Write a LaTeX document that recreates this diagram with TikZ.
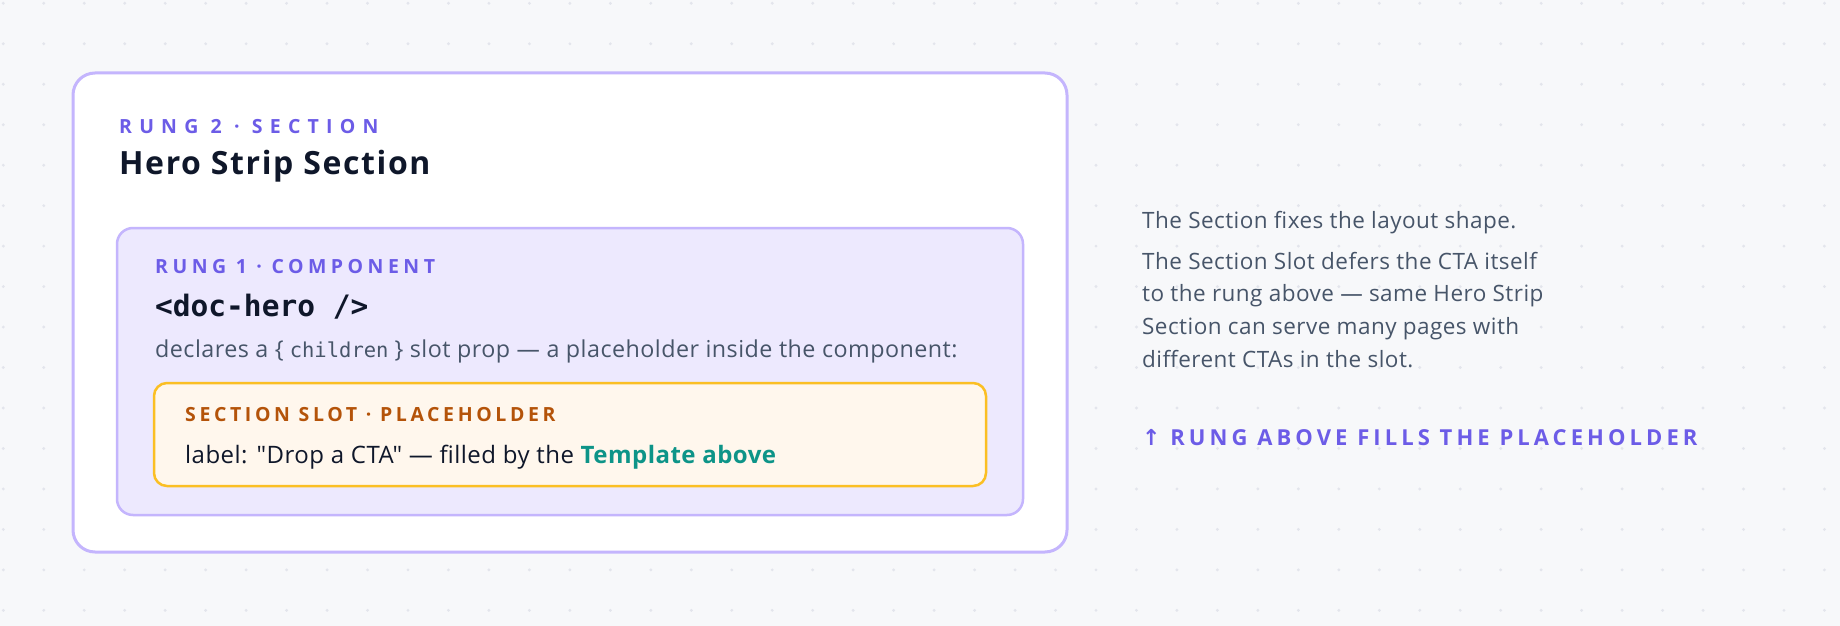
\documentclass[tikz,border=0pt]{standalone}
\usepackage{fontspec}
\setmainfont{Open Sans}
\newfontfamily\uifont[LetterSpace=2]{Open Sans}
\newfontfamily\titlefont[LetterSpace=5]{Open Sans}
\newfontfamily\sectionfont[LetterSpace=37]{Open Sans}
\newfontfamily\rungfont[LetterSpace=23]{Open Sans}
\newfontfamily\slotfont[LetterSpace=18.5]{Open Sans}
\newfontfamily\hintfont[LetterSpace=18.5]{Open Sans}
\newfontfamily\codefont{DejaVu Sans Mono}
\newfontfamily\arrowfont{DejaVu Sans}
\definecolor{pagebg}{HTML}{F7F8FA}
\definecolor{dotgrey}{HTML}{E3E5EC}
\definecolor{violetline}{HTML}{C4B5FD}
\definecolor{violetfill}{HTML}{EDE9FE}
\definecolor{rungviolet}{HTML}{6C5CE7}
\definecolor{inkdark}{HTML}{0F172A}
\definecolor{inkslate}{HTML}{475569}
\definecolor{slotline}{HTML}{FBBF24}
\definecolor{slotfill}{HTML}{FFF7ED}
\definecolor{slotbrown}{HTML}{B45309}
\definecolor{tealtxt}{HTML}{0D9488}
\begin{document}
\begin{tikzpicture}[x=1pt, y=-1pt,
    framebox/.style={draw=violetline, rounded corners=#1, inner sep=0pt, outer sep=0pt, anchor=north west},
    eyebrowtxt/.style={anchor=base west, inner sep=0pt, font=\rungfont\bfseries\fontsize{19.5}{20}\selectfont},
    plaintxt/.style={anchor=base west, inner sep=0pt}]
    % canvas and dot grid
    \useasboundingbox[fill=pagebg] (0,0) rectangle (1840,626);
    \foreach \i in {0,...,45}{
      \foreach \j in {0,...,15}{
        \fill[dotgrey] (3.3+40.47*\i, 3.3+40.47*\j) circle (1.6);
      }
    }
    % rung 2: the section
    \node[framebox=22pt, line width=3pt, fill=white, minimum width=994pt, minimum height=479pt] (section) at (73,73) {};
    \node[eyebrowtxt, text=rungviolet, font=\sectionfont\bfseries\fontsize{19.5}{20}\selectfont] (sectiontag) at (119,133) {RUNG 2 · SECTION};
    \node[plaintxt, text=inkdark, font=\titlefont\bfseries\fontsize{32}{33}\selectfont] (sectiontitle) at (119,174) {Hero Strip Section};
    % rung 1: the component
    \node[framebox=16pt, line width=2.5pt, fill=violetfill, minimum width=906pt, minimum height=287pt] (component) at (117,228) {};
    \node[eyebrowtxt, text=rungviolet] (componenttag) at (155,273) {RUNG 1 · COMPONENT};
    \node[plaintxt, text=inkdark, font=\codefont\bfseries\fontsize{29.5}{30}\selectfont] (componentname) at (155,316) {<doc-hero />};
    \node[plaintxt, text=inkslate, font=\uifont\fontsize{23.3}{24}\selectfont] (componentnote) at (155,357)
      {declares a \{\hspace{6pt}{\codefont\fontsize{20.5}{24}\selectfont children}\hspace{6pt}\} slot prop — a placeholder inside the component:};
    % the slot
    \node[framebox=13pt, draw=slotline, line width=2.5pt, fill=slotfill, minimum width=832pt, minimum height=103pt] (slot) at (154,383) {};
    \node[eyebrowtxt, text=slotbrown, font=\slotfont\bfseries\fontsize{19.5}{20}\selectfont] (slottag) at (185,421) {SECTION SLOT · PLACEHOLDER};
    \node[plaintxt, text=inkdark, font=\uifont\fontsize{24}{25}\selectfont] (slotnote) at (185,463)
      {label: "Drop a CTA" — filled by the \textcolor{tealtxt}{\bfseries Template above}};
    % side notes
    \foreach \txt/\yy [count=\k] in {The Section fixes the layout shape./228,
        The Section Slot defers the CTA itself/269,
        to the rung above — same Hero Strip/301,
        Section can serve many pages with/334,
        different CTAs in the slot./367}{
      \node[plaintxt, text=inkslate, font=\uifont\fontsize{22.5}{24}\selectfont] (note\k) at (1142,\yy) {\txt};
    }
    \node[eyebrowtxt, text=rungviolet, font=\hintfont\bfseries\fontsize{22}{24}\selectfont] (fillnote) at (1142,445)
      {{\arrowfont\bfseries ↑} RUNG ABOVE FILLS THE PLACEHOLDER};
\end{tikzpicture}
\end{document}
